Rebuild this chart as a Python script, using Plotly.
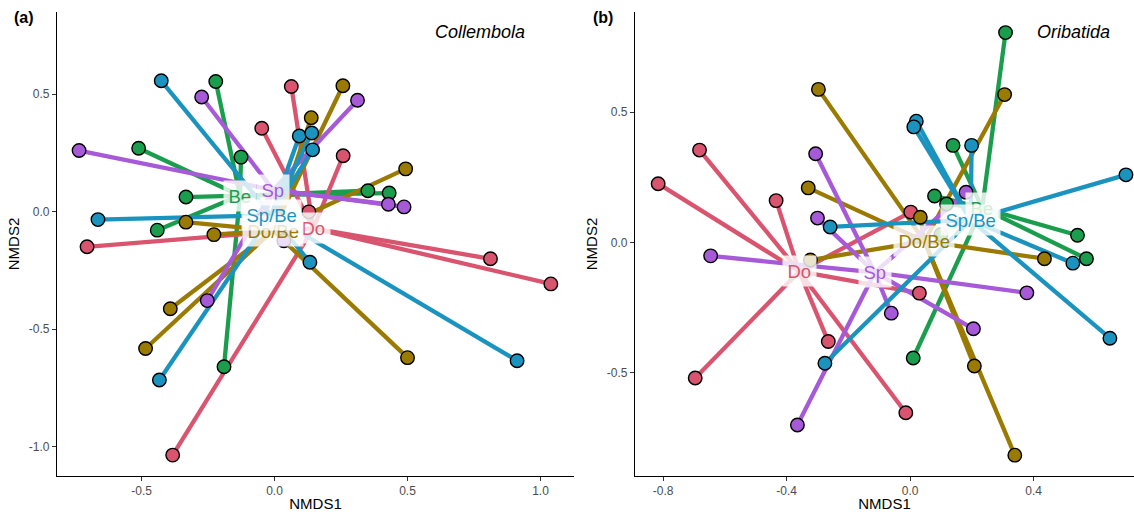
import numpy as np
import plotly.graph_objects as go

# ---------------- data: panel (a) Collembola ----------------
groups = ["Be", "Do", "Do/Be", "Sp", "Sp/Be"]
colors = {"Be": "#1A9E4E", "Do": "#D9546F", "Do/Be": "#9A7A00", "Sp": "#A65AD8", "Sp/Be": "#1A94BF"}

a_Be_x = [-0.221, -0.126, -0.511, -0.333, -0.441, 0.351, 0.431, -0.190]
a_Be_y = [0.554, 0.232, 0.270, 0.062, -0.079, 0.089, 0.079, -0.661]
a_Do_x = [0.063, -0.048, 0.258, 0.129, 0.812, 1.039, -0.705, -0.383]
a_Do_y = [0.533, 0.355, 0.238, -0.001, -0.201, -0.308, -0.150, -1.037]
a_DoBe_x = [0.257, 0.138, 0.493, -0.333, -0.228, -0.392, -0.485, 0.500]
a_DoBe_y = [0.536, 0.400, 0.182, -0.045, -0.098, -0.414, -0.583, -0.622]
a_Sp_x = [-0.274, 0.312, -0.735, 0.428, 0.487, -0.253, 0.035, -0.040]
a_Sp_y = [0.488, 0.474, 0.260, 0.031, 0.020, -0.379, -0.124, -0.030]
a_SpBe_x = [-0.426, 0.093, 0.140, 0.143, -0.664, 0.133, 0.912, -0.433]
a_SpBe_y = [0.557, 0.322, 0.335, 0.263, -0.034, -0.216, -0.635, -0.717]

# ---------------- data: panel (b) Oribatida ----------------
b_Be_x = [0.309, 0.139, 0.079, 0.118, 0.542, 0.571, 0.010, 0.100]
b_Be_y = [0.805, 0.372, 0.178, 0.147, 0.027, -0.063, -0.444, 0.030]
b_Do_x = [-0.682, -0.816, -0.434, 0.002, 0.030, -0.265, -0.696, -0.014]
b_Do_y = [0.354, 0.225, 0.160, 0.116, -0.195, -0.381, -0.521, -0.654]
b_DoBe_x = [-0.297, 0.306, -0.330, 0.033, -0.323, 0.435, 0.208, 0.339]
b_DoBe_y = [0.587, 0.567, 0.209, 0.096, -0.068, -0.063, -0.475, -0.817]
b_Sp_x = [-0.306, -0.300, -0.646, 0.181, -0.061, 0.205, 0.378, -0.365]
b_Sp_y = [0.340, 0.093, -0.052, 0.192, -0.272, -0.332, -0.194, -0.701]
b_SpBe_x = [0.020, 0.012, 0.199, 0.699, -0.259, 0.527, 0.647, -0.276]
b_SpBe_y = [0.465, 0.443, 0.372, 0.259, 0.059, -0.080, -0.368, -0.464]

a_ticks_x = [-0.5, 0.0, 0.5, 1.0]
a_ticks_x_text = ["-0.5", "0.0", "0.5", "1.0"]
a_ticks_y = [-1.0, -0.5, 0.0, 0.5]
a_ticks_y_text = ["-1.0", "-0.5", "0.0", "0.5"]
b_ticks_x = [-0.8, -0.4, 0.0, 0.4]
b_ticks_x_text = ["-0.8", "-0.4", "0.0", "0.4"]
b_ticks_y = [-0.5, 0.0, 0.5]
b_ticks_y_text = ["-0.5", "0.0", "0.5"]

panel_a = {"Be": (a_Be_x, a_Be_y), "Do": (a_Do_x, a_Do_y), "Do/Be": (a_DoBe_x, a_DoBe_y),
           "Sp": (a_Sp_x, a_Sp_y), "Sp/Be": (a_SpBe_x, a_SpBe_y)}
panel_b = {"Be": (b_Be_x, b_Be_y), "Do": (b_Do_x, b_Do_y), "Do/Be": (b_DoBe_x, b_DoBe_y),
           "Sp": (b_Sp_x, b_Sp_y), "Sp/Be": (b_SpBe_x, b_SpBe_y)}

FONT = "Liberation Sans, Arial, sans-serif"
fig = go.Figure()
annotations = []

for panel, xa, ya in [(panel_a, "x", "y"), (panel_b, "x2", "y2")]:
    cents = {}
    # segments (spider lines)
    for g in groups:
        xs, ys = panel[g]
        cx, cy = float(np.mean(xs)), float(np.mean(ys))
        cents[g] = (cx, cy)
        lx, ly = [], []
        for px, py in zip(xs, ys):
            lx += [cx, px, None]
            ly += [cy, py, None]
        fig.add_trace(go.Scatter(x=lx, y=ly, mode="lines", xaxis=xa, yaxis=ya,
                                 line=dict(color=colors[g], width=4.3),
                                 hoverinfo="skip", showlegend=False))
    # points
    for g in groups:
        xs, ys = panel[g]
        fig.add_trace(go.Scatter(x=xs, y=ys, mode="markers", xaxis=xa, yaxis=ya,
                                 marker=dict(size=13.5, color=colors[g],
                                             line=dict(color="black", width=1.4)),
                                 showlegend=False, name=g))
    # centroid labels
    for g in groups:
        cx, cy = cents[g]
        annotations.append(dict(x=cx, y=cy, xref=xa, yref=ya, text=g, showarrow=False,
                                font=dict(family=FONT, size=18.5, color=colors[g]),
                                bgcolor="rgba(255,255,255,0.8)", borderpad=4.5))

# panel titles and tags
annotations += [
    dict(x=527 / 1134, y=1 - 32 / 512, xref="paper", yref="paper", text="<i>Collembola</i>",
         showarrow=False, xanchor="right", yanchor="middle",
         font=dict(family=FONT, size=18, color="black")),
    dict(x=1112 / 1134, y=1 - 32 / 512, xref="paper", yref="paper", text="<i>Oribatida</i>",
         showarrow=False, xanchor="right", yanchor="middle",
         font=dict(family=FONT, size=18, color="black")),
    dict(x=12 / 1134, y=1 - 17 / 512, xref="paper", yref="paper", text="<b>(a)</b>",
         showarrow=False, xanchor="left", yanchor="middle",
         font=dict(family=FONT, size=16, color="black")),
    dict(x=591 / 1134, y=1 - 17 / 512, xref="paper", yref="paper", text="<b>(b)</b>",
         showarrow=False, xanchor="left", yanchor="middle",
         font=dict(family=FONT, size=16, color="black")),
]

axis_common = dict(showline=True, linecolor="black", linewidth=1.1, showgrid=False,
                   zeroline=False, ticks="outside", ticklen=4, tickwidth=1, tickcolor="#333333",
                   tickfont=dict(family=FONT, size=12, color="#4D4D4D"), mirror=False)

fig.update_layout(
    width=1134, height=512,
    margin=dict(l=0, r=0, t=0, b=0),
    paper_bgcolor="white", plot_bgcolor="white",
    font=dict(family=FONT),
    xaxis=dict(domain=[57 / 1134, 574 / 1134], range=[-0.818, 1.126], anchor="y",
               tickvals=a_ticks_x, ticktext=a_ticks_x_text,
               title=dict(text="NMDS1", font=dict(family=FONT, size=15, color="black"), standoff=2),
               **axis_common),
    yaxis=dict(domain=[36 / 512, 500 / 512], range=[-1.126, 0.850], anchor="x",
               tickvals=a_ticks_y, ticktext=a_ticks_y_text,
               title=dict(text="NMDS2", font=dict(family=FONT, size=15, color="black"), standoff=5),
               **axis_common),
    xaxis2=dict(domain=[635 / 1134, 1.0], range=[-0.891, 0.725], anchor="y2",
                tickvals=b_ticks_x, ticktext=b_ticks_x_text,
                title=dict(text="NMDS1", font=dict(family=FONT, size=15, color="black"), standoff=2),
                **axis_common),
    yaxis2=dict(domain=[36 / 512, 500 / 512], range=[-0.897, 0.884], anchor="x2",
                tickvals=b_ticks_y, ticktext=b_ticks_y_text,
                title=dict(text="NMDS2", font=dict(family=FONT, size=15, color="black"), standoff=5),
                **axis_common),
    annotations=annotations,
)

fig.write_html("out.html", config={"displayModeBar": False},
               post_script="document.body.style.margin='0px';document.body.style.overflow='hidden';")
